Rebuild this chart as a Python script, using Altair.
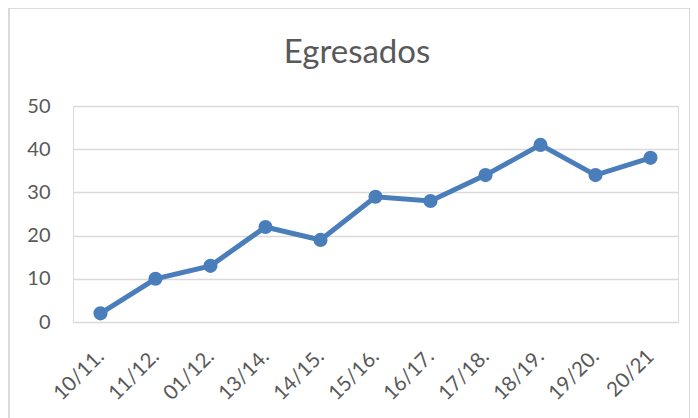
import altair as alt
import pandas as pd

periods = ["10/11.", "11/12.", "01/12.", "13/14.", "14/15.", "15/16.", "16/17.", "17/18.", "18/19.", "19/20.", "20/21"]
egresados = [2, 10, 13, 22, 19, 29, 28, 34, 41, 34, 38]
y_ticks = [0, 10, 20, 30, 40, 50]
title_text = "Egresados"

df = pd.DataFrame({"periodo": periods, "egresados": egresados})

FONT = "Lato"
GREY = "#595959"
BLUE = "#4a7ebb"

base = alt.Chart(df)

border = base.mark_rect(fill=None, stroke="#d9d9d9", strokeWidth=1.5).encode(
    x=alt.value(-64.5), x2=alt.value(617), y=alt.value(-98.5), y2=alt.value(330)
)

title = alt.Chart(pd.DataFrame({"t": [title_text]})).mark_text(
    font=FONT, fontSize=33, color=GREY, align="center", baseline="alphabetic"
).encode(text="t:N", x=alt.value(284), y=alt.value(-43))

line = base.mark_line(color=BLUE, strokeWidth=5, point=alt.OverlayMarkDef(color=BLUE, size=200, filled=True, opacity=1)).encode(
    x=alt.X("periodo:N", sort=periods, scale=alt.Scale(type="point", padding=0.5),
            axis=alt.Axis(title=None, labelAngle=-45, labelAlign="right", labelBaseline="middle",
                          labelFontSize=20.5, labelColor=GREY, labelFont=FONT, labelPadding=31,
                          ticks=False, domain=False, grid=False)),
    y=alt.Y("egresados:Q", scale=alt.Scale(domain=[0, 50], nice=False),
            axis=alt.Axis(title=None, values=y_ticks, labelFontSize=20, labelColor=GREY, labelFont=FONT,
                          labelPadding=23, ticks=False, domain=False, grid=True, gridColor="#d9d9d9", gridWidth=1.5)),
)

chart = alt.layer(border, title, line).properties(
    width=605, height=216,
    autosize=alt.AutoSizeParams(type="none"),
    padding={"left": 65, "top": 98, "right": 12, "bottom": 96},
).configure_view(stroke=None).configure(background="white")

chart.save("out.html", embed_options={"renderer": "svg", "actions": False})
